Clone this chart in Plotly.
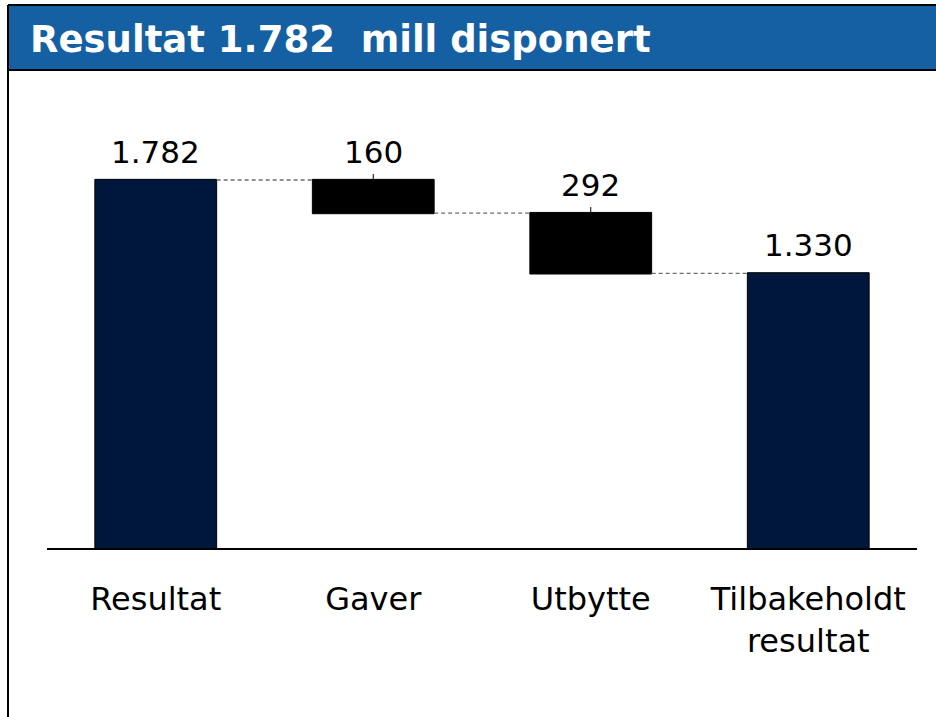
import plotly.graph_objects as go

# ---- data ----
categories = ["Resultat", "Gaver", "Utbytte", "Tilbakeholdt<br>resultat"]
measures = ["absolute", "relative", "relative", "total"]
values = [1782, -160, -292, 0]
value_labels = ["1.782", "160", "292", "1.330"]
title_text = "Resultat 1.782  mill disponert"

W, H = 936, 717
L, R, T, B = 47, 917, 135, 548
YMAX = 2000

def px_x(p):
    return (p - L) / (R - L)

def px_y(p):
    return (B - p) / (B - T)

FONT = "DejaVu Sans, Verdana, sans-serif"
NAVY = "#00173D"
BLUE = "#1560A2"

fig = go.Figure()
fig.add_trace(go.Waterfall(
    x=categories,
    y=values,
    measure=measures,
    decreasing=dict(marker=dict(color="#000000", line=dict(color="#000000", width=1))),
    increasing=dict(marker=dict(color=NAVY, line=dict(color="#000000", width=1))),
    totals=dict(marker=dict(color=NAVY, line=dict(color="#000000", width=1))),
    connector=dict(mode="between", line=dict(color="#6E6E6E", width=1.3, dash="4px,3px")),
    textposition="none",
    hoverinfo="skip",
))

# compute bar tops from data
tops = []
running = 0
for m, v in zip(measures, values):
    if m == "absolute":
        running = v
        tops.append(running)
    elif m == "relative":
        tops.append(running)
        running += v
    else:
        tops.append(running)

annotations = []
shapes = []
for cat, top, lab, m in zip(categories, tops, value_labels, measures):
    annotations.append(dict(
        x=cat, y=top, xref="x", yref="y", text=lab, showarrow=False,
        yanchor="bottom", yshift=8, font=dict(family=FONT, size=31, color="#000000"),
    ))
    if m == "relative":
        shapes.append(dict(
            type="line", xref="x", yref="y", ysizemode="pixel", yanchor=top,
            x0=cat, x1=cat, y0=0, y1=6, line=dict(color="#000000", width=1),
        ))

# title band and frame
shapes.append(dict(type="rect", xref="paper", yref="paper",
                   x0=px_x(8), x1=px_x(940), y0=px_y(70), y1=px_y(5),
                   fillcolor=BLUE, line=dict(width=0), layer="below"))
shapes.append(dict(type="line", xref="paper", yref="paper",
                   x0=px_x(8), x1=px_x(940), y0=px_y(5), y1=px_y(5),
                   line=dict(color="#000000", width=2)))
shapes.append(dict(type="line", xref="paper", yref="paper",
                   x0=px_x(8), x1=px_x(940), y0=px_y(70), y1=px_y(70),
                   line=dict(color="#000000", width=2)))
shapes.append(dict(type="line", xref="paper", yref="paper",
                   x0=px_x(8), x1=px_x(8), y0=px_y(5), y1=px_y(720),
                   line=dict(color="#000000", width=2)))

annotations.append(dict(
    x=px_x(28), y=px_y(39), xref="paper", yref="paper", text="<b>" + title_text + "</b>",
    showarrow=False, xanchor="left", yanchor="middle",
    font=dict(family=FONT, size=37, color="#FFFFFF"),
))

fig.update_layout(
    width=W, height=H,
    margin=dict(l=L, r=W - R, t=T, b=H - B, pad=0),
    paper_bgcolor="#FFFFFF", plot_bgcolor="#FFFFFF",
    showlegend=False,
    waterfallgap=0.44,
    xaxis=dict(showline=True, linecolor="#000000", linewidth=2, ticks="",
               showgrid=False, zeroline=False,
               tickfont=dict(family=FONT, size=32, color="#000000"),
               ticklabelstandoff=22),
    yaxis=dict(range=[0, YMAX], visible=False, showgrid=False, zeroline=False),
    annotations=annotations,
    shapes=shapes,
)

fig.write_html("out.html", config={"displayModeBar": False},
               post_script="document.body.style.margin='0';")
